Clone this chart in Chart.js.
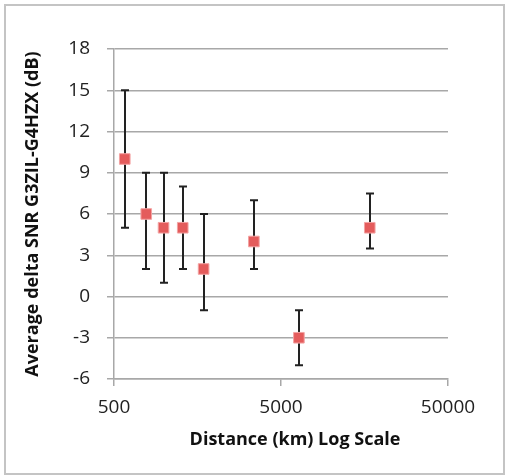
<!DOCTYPE html>
<html>
<head>
<meta charset="utf-8">
<script src="https://cdn.jsdelivr.net/npm/chart.js@4/dist/chart.umd.min.js"></script>
<style>
  body { margin: 0; background: #fff; }
  #wrap { width: 508px; height: 476px; }
</style>
</head>
<body>
<div id="wrap"><canvas id="snrChart" width="508" height="476"></canvas></div>
<script>
// distances (km) and average delta SNR (dB)
const distances = [580, 780, 990, 1290, 1720, 3440, 6400, 17000];
const snrValues = [10, 6, 5, 5, 2, 4, -3, 5];
const errLow = [5, 2, 1, 2, -1, 2, -5, 3.5];
const errHigh = [15, 9, 9, 8, 6, 7, -1, 7.5];
const xTicks = [500, 5000, 50000];
const yTicks = [-6, -3, 0, 3, 6, 9, 12, 15, 18];

const xTitle = 'Distance (km) Log Scale';
const yTitle = 'Average delta SNR G3ZIL-G4HZX (dB)';

// whiskers drawn under the squares
const errorBars = {
  id: 'errorBars',
  beforeDatasetsDraw(chart) {
    const ctx = chart.ctx;
    const x = chart.scales.x, y = chart.scales.y;
    ctx.save();
    ctx.strokeStyle = '#222';
    ctx.lineWidth = 2;
    distances.forEach((d, i) => {
      const px = Math.round(x.getPixelForValue(d));
      const top = y.getPixelForValue(errHigh[i]);
      const bot = y.getPixelForValue(errLow[i]);
      ctx.beginPath();
      ctx.moveTo(px, top); ctx.lineTo(px, bot);
      ctx.moveTo(px - 4, top); ctx.lineTo(px + 4, top);
      ctx.moveTo(px - 4, bot); ctx.lineTo(px + 4, bot);
      ctx.stroke();
    });
    ctx.restore();
  }
};

// frame and axis titles
const decorations = {
  id: 'decorations',
  afterDraw(chart) {
    const ctx = chart.ctx;
    const area = chart.chartArea;
    ctx.save();
    ctx.strokeStyle = '#c4c4c4';
    ctx.lineWidth = 2;
    ctx.strokeRect(5, 5, 499, 469);

    ctx.fillStyle = '#111';
    ctx.font = 'bold 18px "Open Sans"';
    ctx.textAlign = 'center';
    ctx.textBaseline = 'middle';
    ctx.fillText(xTitle, 295, 440);

    ctx.translate(33, (area.top + area.bottom) / 2);
    ctx.rotate(-Math.PI / 2);
    ctx.fillText(yTitle, 0, 0);
    ctx.restore();
  }
};

new Chart(document.getElementById('snrChart'), {
  type: 'scatter',
  data: {
    datasets: [{
      data: distances.map((d, i) => ({ x: d, y: snrValues[i] })),
      pointStyle: 'rect',
      pointRadius: 7.5,
      pointHoverRadius: 7.5,
      backgroundColor: '#e45c5c',
      borderColor: '#f3a3a3',
      borderWidth: 1
    }]
  },
  options: {
    responsive: false,
    devicePixelRatio: 1,
    animation: false,
    layout: { padding: { top: 49, right: 60, left: 0, bottom: 0 } },
    plugins: {
      legend: { display: false },
      tooltip: { enabled: false }
    },
    scales: {
      x: {
        type: 'logarithmic',
        min: 500,
        max: 50000,
        afterBuildTicks: (scale) => { scale.ticks = xTicks.map(v => ({ value: v })); },
        afterFit: (scale) => { scale.height = 97; },
        grid: { drawOnChartArea: false, drawTicks: true, tickLength: 7, color: '#a8a8a8', lineWidth: 1.5 },
        border: { display: true, color: '#a8a8a8', width: 1.5 },
        ticks: {
          padding: 10,
          maxRotation: 0,
          color: '#222',
          font: { family: 'Open Sans', size: 19 },
          callback: (v) => String(v)
        }
      },
      y: {
        min: -6,
        max: 18,
        afterBuildTicks: (scale) => { scale.ticks = yTicks.map(v => ({ value: v })); },
        afterFit: (scale) => { scale.width = 114; },
        grid: { drawTicks: true, tickLength: 7, color: '#a8a8a8', lineWidth: 1.5 },
        border: { display: true, color: '#a8a8a8', width: 1.5 },
        ticks: {
          padding: 17,
          color: '#222',
          font: { family: 'Open Sans', size: 19 }
        }
      }
    }
  },
  plugins: [errorBars, decorations]
});
</script>
</body>
</html>
